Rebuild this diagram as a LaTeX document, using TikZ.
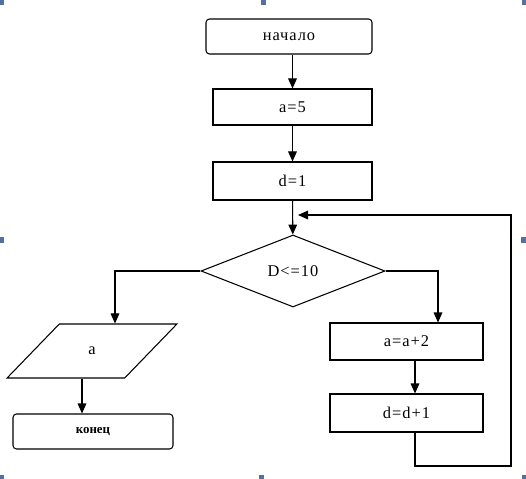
\documentclass[tikz,border=0pt]{standalone}
\usepackage{fontspec}
\setmainfont{Liberation Serif}
\usetikzlibrary{shapes.geometric,arrows.meta}
\definecolor{handleblue}{RGB}{84,112,160}
\begin{document}
\begin{tikzpicture}[x=0.03cm, y=-0.03cm, line width=0.9pt, >={Triangle[length=3mm, width=2.6mm]}]

      \tikzstyle{term_style} = [rectangle, draw, rounded corners=3pt, minimum width=4.98cm, minimum height=1.05cm, inner sep=0pt, font=\fontsize{14}{16}\selectfont\addfontfeature{LetterSpace=6}]
        \tikzstyle{step_style} = [rectangle, draw, minimum width=4.77cm, minimum height=1.1cm, inner sep=0pt, font=\fontsize{14}{16}\selectfont\addfontfeature{LetterSpace=6}]
            \tikzstyle{cond_style} = [diamond, draw, aspect=2.55, minimum width=5.52cm, minimum height=2.16cm, inner sep=0pt, font=\fontsize{14}{16}\selectfont\addfontfeature{LetterSpace=6}]
            \tikzstyle{io_style} = [trapezium, draw, trapezium left angle=53.5, trapezium right angle=126.5, trapezium stretches=true, minimum width=5.1cm, minimum height=1.62cm, inner sep=0pt, font=\fontsize{14}{16}\selectfont]
        \tikzstyle{handle} = [fill=handleblue]

      \useasboundingbox (0,0) rectangle (526,479);

            \draw
              (289.0, 36.5) node[term_style] (start){начало}
              (292.5, 107.0) node[step_style, minimum height=1.08cm] (a5){a=5}
              (292.5, 181.0) node[step_style, minimum height=1.14cm] (d1){d=1}
              (293.0, 271.0) node[cond_style] (cond){D<=10}
              (92.0, 351.0) node[io_style] (out){a}
              (93.0, 431.5) node[term_style, minimum width=4.8cm, font=\fontsize{11}{13}\selectfont\bfseries] (end){конец}
              (406.5, 341.5) node[step_style, minimum width=4.59cm, minimum height=1.11cm] (a2){a=a+2}
              (406.5, 413.0) node[step_style, minimum width=4.59cm, minimum height=1.14cm] (d2){d=d+1};

      \coordinate (lturn) at (115, 270);
      \coordinate (rturn) at (438, 270);
      \coordinate (lcol) at (82, 0);
      \coordinate (rcol) at (415, 0);
      \coordinate (loopbot) at (511, 466);
      \coordinate (looptop) at (511, 215);
      \coordinate (loopend) at (298, 215);

      \begin{scope}[->]
        \draw (start.south -| a5) -- (a5.north);
        \draw (a5) -- (d1);
        \draw (d1) -- (cond);
        \draw (cond.west) -| (out.north -| lturn);
        \draw (cond.east) -| (a2.north -| rturn);
        \draw (out.south -| lcol) -- (end.north -| lcol);
        \draw (a2.south -| rcol) -- (d2.north -| rcol);
        \draw (d2.south -| rcol) |- (loopbot) -- (looptop) -- (loopend);
      \end{scope}

      % selection handles
      \fill[handle] (0, 0) rectangle (4, 5);
      \fill[handle] (261, 0) rectangle (266, 5);
      \fill[handle] (522, 0) rectangle (526, 5);
      \fill[handle] (0, 237) rectangle (4, 243);
      \fill[handle] (521, 237) rectangle (526, 243);
      \fill[handle] (0, 475) rectangle (4, 479);
      \fill[handle] (259, 475) rectangle (264, 479);
      \fill[handle] (522, 475) rectangle (526, 479);
    \end{tikzpicture}
\end{document}
